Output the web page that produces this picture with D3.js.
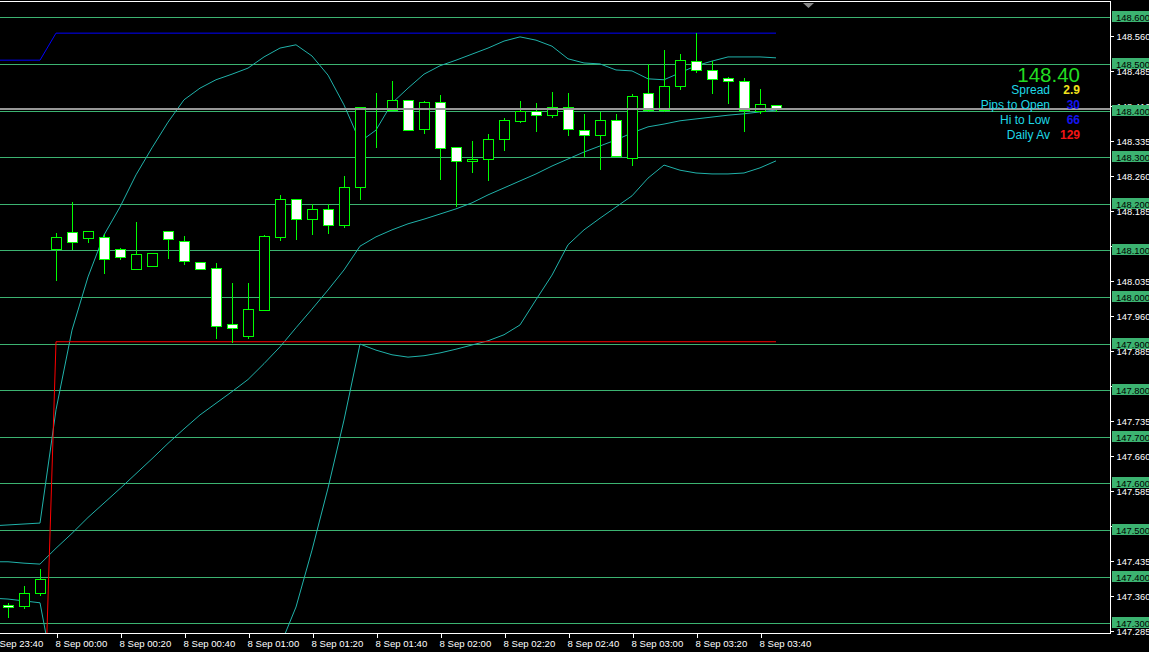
<!DOCTYPE html>
<html><head><meta charset="utf-8">
<script src="https://cdn.jsdelivr.net/npm/d3@7"></script>
<style>
html,body{margin:0;padding:0;background:#000;overflow:hidden;}
svg{display:block;}
text{font-family:"Liberation Sans",Arial,sans-serif;}
</style></head><body>
<svg id="chart" width="1149" height="652"></svg>
<script>
// ---- candle data (5-minute bars, 7 Sep 23:45 .. 8 Sep 03:45) ----
const open = [147.339,147.337,147.365,148.104,148.139,148.127,148.128,148.102,148.061,148.067,148.141,148.120,148.074,148.062,147.941,147.917,147.972,148.129,148.210,148.167,148.188,148.155,148.235,148.402,148.401,148.422,148.360,148.418,148.321,148.291,148.295,148.338,148.378,148.399,148.390,148.407,148.358,148.347,148.379,148.298,148.437,148.401,148.452,148.506,148.488,148.469,148.463,148.398,148.411];
const high = [147.344,147.380,147.417,148.137,148.204,148.141,148.135,148.105,148.161,148.094,148.141,148.131,148.074,148.073,148.030,148.030,148.134,148.219,148.210,148.200,148.200,148.260,148.407,148.438,148.463,148.422,148.420,148.433,148.321,148.335,148.350,148.384,148.420,148.416,148.440,148.438,148.393,148.397,148.393,148.436,148.500,148.530,148.521,148.566,148.506,148.471,148.469,148.446,148.411];
const low = [147.314,147.333,147.361,148.036,148.103,148.119,148.052,148.082,148.061,148.067,148.084,148.071,148.061,147.911,147.904,147.911,147.972,148.122,148.124,148.136,148.138,148.151,148.211,148.322,148.401,148.358,148.352,148.254,148.195,148.269,148.252,148.316,148.375,148.357,148.386,148.348,148.303,148.275,148.303,148.283,148.398,148.398,148.446,148.483,148.438,148.416,148.357,148.394,148.398];
const close = [147.335,147.365,147.395,148.128,148.117,148.141,148.082,148.086,148.092,148.094,148.125,148.078,148.061,147.938,147.933,147.974,148.130,148.210,148.167,148.188,148.154,148.235,148.407,148.402,148.422,148.358,148.418,148.319,148.291,148.295,148.338,148.379,148.399,148.390,148.407,148.360,148.347,148.379,148.303,148.431,148.401,148.452,148.508,148.488,148.467,148.463,148.401,148.413,148.403];

// ---- indicator lines (bars 7 Sep 23:40 .. 8 Sep 03:45) ----
const bbUpper = [147.509,147.511,147.513,147.515,147.758,147.929,148.043,148.133,148.193,148.262,148.320,148.375,148.423,148.448,148.466,148.478,148.491,148.515,148.534,148.541,148.517,148.476,148.412,148.333,148.358,148.416,148.448,148.478,148.496,148.508,148.521,148.534,148.549,148.558,148.551,148.538,148.511,148.502,148.500,148.487,148.485,148.468,148.466,148.481,148.496,148.506,148.515,148.515,148.515,148.513];
const bbMiddle = [147.432,147.432,147.429,147.427,147.461,147.493,147.527,147.558,147.589,147.621,147.653,147.686,147.717,147.747,147.772,147.797,147.823,147.857,147.893,147.934,147.974,148.015,148.058,148.109,148.129,148.144,148.157,148.167,148.178,148.189,148.202,148.219,148.234,148.249,148.264,148.281,148.296,148.311,148.324,148.337,148.352,148.365,148.371,148.378,148.382,148.386,148.390,148.393,148.397,148.401];
const bbLower = [147.354,147.352,147.348,147.344,147.163,147.056,147.011,146.983,146.985,146.981,146.985,146.996,147.011,147.045,147.078,147.116,147.155,147.198,147.251,147.335,147.457,147.590,147.736,147.899,147.886,147.876,147.871,147.874,147.880,147.888,147.897,147.906,147.919,147.940,147.994,148.047,148.112,148.144,148.169,148.193,148.217,148.255,148.283,148.272,148.266,148.264,148.264,148.266,148.277,148.292];
const dayHigh = [148.508,148.508,148.508,148.508,148.566,148.566,148.566,148.566,148.566,148.566,148.566,148.566,148.566,148.566,148.566,148.566,148.566,148.566,148.566,148.566,148.566,148.566,148.566,148.566,148.566,148.566,148.566,148.566,148.566,148.566,148.566,148.566,148.566,148.566,148.566,148.566,148.566,148.566,148.566,148.566,148.566,148.566,148.566,148.566,148.566,148.566,148.566,148.566,148.566,148.566];
const dayLow = [146.803,146.803,146.803,146.803,147.904,147.904,147.904,147.904,147.904,147.904,147.904,147.904,147.904,147.904,147.904,147.904,147.904,147.904,147.904,147.904,147.904,147.904,147.904,147.904,147.904,147.904,147.904,147.904,147.904,147.904,147.904,147.904,147.904,147.904,147.904,147.904,147.904,147.904,147.904,147.904,147.904,147.904,147.904,147.904,147.904,147.904,147.904,147.904,147.904,147.904];

// ---- axis labels ----
const gridLevels = [148.6,148.5,148.4,148.3,148.2,148.1,148.0,147.9,147.8,147.7,147.6,147.5,147.4,147.3];
const priceTicks = [148.560,148.485,148.410,148.335,148.260,148.185,148.110,148.035,147.960,147.885,147.810,147.735,147.660,147.585,147.510,147.435,147.360,147.285];
const timeTickLabels = ["7 Sep 23:40","8 Sep 00:00","8 Sep 00:20","8 Sep 00:40","8 Sep 01:00","8 Sep 01:20","8 Sep 01:40","8 Sep 02:00","8 Sep 02:20","8 Sep 02:40","8 Sep 03:00","8 Sep 03:20","8 Sep 03:40"];

// ---- info panel ----
const lastPriceText = "148.40";
const infoLabels = ["Spread","Pips to Open","Hi to Low","Daily Av"];
const infoValues = ["2.9","30","66","129"];
const infoValueColors = ["#f2e21c","#1414f0","#1414f0","#f01414"];

const svg = d3.select("#chart");
const W = 1149, H = 652;
const plotR = 1110, plotB = 633;

svg.append("rect").attr("width", W).attr("height", H).attr("fill", "#000");

const MS5 = 300000;
const t0 = Date.UTC(2025, 8, 7, 23, 45);
const barTimes = open.map((_, i) => new Date(t0 + i * MS5));
const bandTimes = bbUpper.map((_, i) => new Date(t0 + (i - 1) * MS5));
const parseTick = d3.utcParse("%d %b %Y %H:%M");
const tickTimes = timeTickLabels.map(s => parseTick(s.replace(/ (\d\d:\d\d)$/, " 2025 $1")));

const x = d3.scaleUtc().domain([barTimes[0], barTimes[barTimes.length - 1]]).range([8, 776]);
const y = d3.scaleLinear().domain([147.3, 148.6]).range([623.3, 17.3]);
const py = v => Math.round(y(v));

const defs = svg.append("defs");
defs.append("clipPath").attr("id", "plotclip").append("rect")
  .attr("x", 0).attr("y", 2).attr("width", plotR).attr("height", plotB - 2);

const plot = svg.append("g").attr("clip-path", "url(#plotclip)");

// grid
plot.append("g").selectAll("line").data(gridLevels).join("line")
  .attr("x1", 0).attr("x2", plotR)
  .attr("y1", d => py(d) + 0.5).attr("y2", d => py(d) + 0.5)
  .attr("stroke", "#3cb371").attr("stroke-width", 1)
  .attr("shape-rendering", "crispEdges");

// bollinger bands
const bandLine = arr => d3.line().x((d, i) => x(bandTimes[i])).y(d => y(d))(arr);
[bbUpper, bbMiddle, bbLower].forEach(arr => {
  plot.append("path").attr("d", bandLine(arr)).attr("fill", "none")
    .attr("stroke", "#20b2aa").attr("stroke-width", 1);
});

// day high / low
plot.append("path").attr("d", bandLine(dayHigh)).attr("fill", "none")
  .attr("stroke", "#0000ff").attr("stroke-width", 1);
plot.append("path").attr("d", bandLine(dayLow)).attr("fill", "none")
  .attr("stroke", "#ff0000").attr("stroke-width", 1);

// candles
const candles = plot.append("g").selectAll("g").data(open.map((o, i) => ({
  t: barTimes[i], o, h: high[i], l: low[i], c: close[i]
}))).join("g");

candles.append("line")
  .attr("x1", d => Math.round(x(d.t)) + 0.5).attr("x2", d => Math.round(x(d.t)) + 0.5)
  .attr("y1", d => py(d.h)).attr("y2", d => py(d.l) + 1)
  .attr("stroke", "#00ff00").attr("shape-rendering", "crispEdges");

candles.append("rect")
  .attr("x", d => Math.round(x(d.t)) - 4.5)
  .attr("width", 10)
  .attr("y", d => py(Math.max(d.o, d.c)) + 0.5)
  .attr("height", d => Math.max(0, py(Math.min(d.o, d.c)) - py(Math.max(d.o, d.c))))
  .attr("fill", d => d.c >= d.o ? "#000" : "#fff")
  .attr("stroke", "#00ff00").attr("stroke-width", 1)
  .attr("shape-rendering", "crispEdges");

// bid line at last close
const lastClose = close[close.length - 1];
plot.append("line").attr("x1", 0).attr("x2", plotR)
  .attr("y1", py(lastClose)).attr("y2", py(lastClose))
  .attr("stroke", "#979797").attr("stroke-width", 2)
  .attr("shape-rendering", "crispEdges");

// frame
svg.append("line").attr("x1", 0).attr("x2", plotR + 0.5).attr("y1", 1.5).attr("y2", 1.5)
  .attr("stroke", "#fff").attr("shape-rendering", "crispEdges");
svg.append("line").attr("x1", 0).attr("x2", plotR + 0.5).attr("y1", plotB + 0.5).attr("y2", plotB + 0.5)
  .attr("stroke", "#fff").attr("shape-rendering", "crispEdges");
svg.append("line").attr("x1", plotR + 0.5).attr("x2", plotR + 0.5).attr("y1", 1).attr("y2", plotB + 1)
  .attr("stroke", "#fff").attr("shape-rendering", "crispEdges");

// shift marker triangle
svg.append("path").attr("d", d3.line()([[803, 3], [814, 3], [808.5, 8]]) + "Z").attr("fill", "#8a8a8a");

// time axis
const xAxis = d3.axisBottom(x).tickValues(tickTimes).tickFormat((d, i) => timeTickLabels[i]).tickSize(4).tickPadding(3);
const gx = svg.append("g").attr("transform", `translate(0.5,${plotB + 0.5})`).call(xAxis);
gx.select(".domain").remove();
gx.selectAll(".tick line").attr("stroke", "#fff").attr("shape-rendering", "crispEdges");
gx.selectAll(".tick text").attr("fill", "#fff").attr("text-anchor", "start").attr("x", -1.5)
  .style("font-family", "'Liberation Sans',Arial,sans-serif").style("font-size", "9.6px");

// price axis
const yAxis = d3.axisRight(y).tickValues(priceTicks).tickFormat(d3.format(".3f")).tickSize(3).tickPadding(3);
const gy = svg.append("g").attr("transform", `translate(${plotR + 0.5},0.5)`).call(yAxis);
gy.select(".domain").remove();
gy.selectAll(".tick line").attr("stroke", "#fff").attr("shape-rendering", "crispEdges");
gy.selectAll(".tick text").attr("fill", "#fff").attr("dy", "0.36em")
  .style("font-family", "'Liberation Sans',Arial,sans-serif").style("font-size", "9.4px");

// grid level boxes
const boxes = svg.append("g").selectAll("g").data(gridLevels).join("g");
boxes.append("rect").attr("x", plotR + 2).attr("y", d => py(d) - 6).attr("width", W - plotR - 2).attr("height", 11)
  .attr("fill", "#3cb371");
boxes.append("text").attr("x", plotR + 6).attr("y", d => py(d) + 3.6)
  .attr("fill", "#000").style("font-size", "9.4px").text(d => d3.format(".3f")(d));

// info panel
svg.append("text").attr("x", 1080).attr("y", 81.5).attr("text-anchor", "end")
  .attr("fill", "#22dc22").style("font-size", "20.5px").text(lastPriceText);
const infoY = [94, 109, 124, 138.5];
svg.append("g").selectAll("text").data(infoLabels).join("text")
  .attr("x", 1050).attr("y", (d, i) => infoY[i]).attr("text-anchor", "end")
  .attr("fill", "#1ed8e6").style("font-size", "12px").text(d => d);
svg.append("g").selectAll("text").data(infoValues).join("text")
  .attr("x", 1080).attr("y", (d, i) => infoY[i]).attr("text-anchor", "end")
  .attr("fill", (d, i) => infoValueColors[i]).style("font-size", "12px").style("font-weight", "bold").text(d => d);
</script>
</body></html>
